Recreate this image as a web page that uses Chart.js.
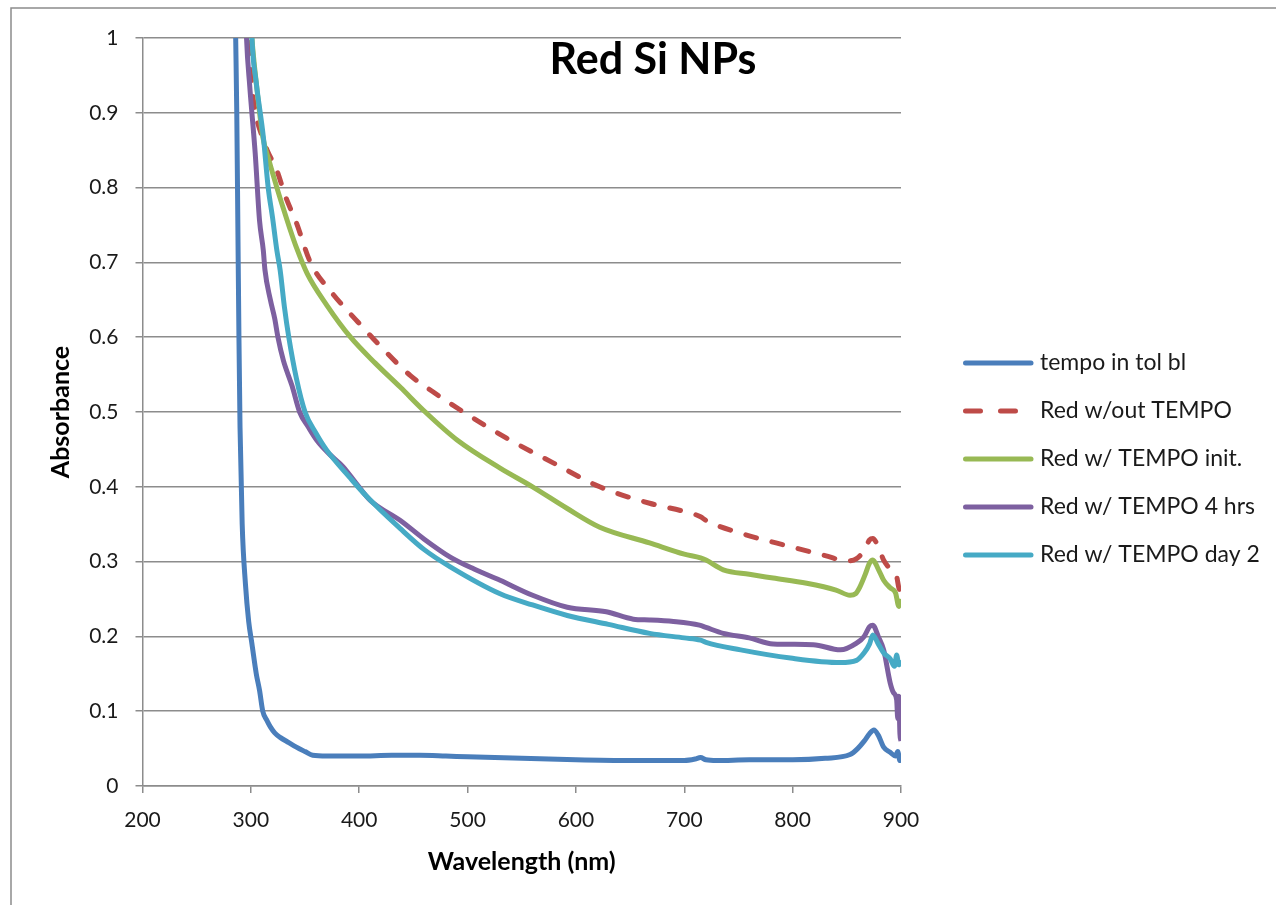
<!DOCTYPE html>
<html>
<head>
<meta charset="utf-8">
<title>Red Si NPs</title>
<script src="https://cdn.jsdelivr.net/npm/chart.js@4.4.1/dist/chart.umd.min.js"></script>
<style>
  html, body { margin: 0; padding: 0; background: #ffffff; }
  canvas { display: block; }
</style>
</head>
<body>
<canvas id="absChart" width="1276" height="905"></canvas>
<script>
// Values (wavelength in nm, absorbance)
const tempoWl  = [284, 286, 287, 288, 289, 290, 292, 295, 298, 301, 305, 308, 311, 315, 318, 322, 327, 335, 342, 350, 357, 370, 400, 430, 456, 480, 500, 550, 600, 650, 700, 710, 715, 720, 730, 760, 800, 830, 853, 860, 866, 871, 875, 879, 884, 890, 895, 897, 899, 900];
const tempoAbs = [1.2, 1.0, 0.9, 0.75, 0.6, 0.48, 0.35, 0.27, 0.22, 0.19, 0.15, 0.128, 0.1, 0.087, 0.079, 0.071, 0.065, 0.058, 0.052, 0.046, 0.041, 0.04, 0.04, 0.041, 0.041, 0.04, 0.039, 0.037, 0.035, 0.034, 0.034, 0.036, 0.038, 0.035, 0.034, 0.035, 0.035, 0.037, 0.042, 0.05, 0.06, 0.07, 0.075, 0.068, 0.052, 0.045, 0.04, 0.046, 0.034, 0.042];

const noTempoWl  = [297, 301, 305, 310, 315, 324, 332, 342, 355, 375, 399, 413, 447, 468, 493, 536, 579, 622, 668, 700, 715, 720, 752, 798, 830, 850, 859, 866, 871, 874, 879, 884, 890, 896, 898, 900];
const noTempoAbs = [1.03, 0.935, 0.895, 0.87, 0.85, 0.823, 0.788, 0.753, 0.70, 0.659, 0.62, 0.598, 0.549, 0.527, 0.503, 0.465, 0.432, 0.40, 0.378, 0.367, 0.36, 0.355, 0.338, 0.32, 0.308, 0.301, 0.304, 0.315, 0.329, 0.331, 0.32, 0.302, 0.29, 0.28, 0.265, 0.26];

const initWl  = [299, 301, 305, 311, 317, 324, 330, 336, 342, 352, 370, 392, 415, 438, 461, 490, 530, 560, 592, 622, 668, 700, 715, 720, 736, 760, 782, 813, 840, 853, 858, 862, 867, 871, 874, 879, 884, 890, 895, 898, 900];
const initAbs = [1.05, 1.0, 0.94, 0.868, 0.835, 0.80, 0.772, 0.745, 0.72, 0.685, 0.643, 0.6, 0.565, 0.533, 0.5, 0.463, 0.425, 0.40, 0.371, 0.346, 0.325, 0.31, 0.305, 0.302, 0.289, 0.283, 0.278, 0.271, 0.262, 0.255, 0.257, 0.266, 0.283, 0.298, 0.302, 0.29, 0.275, 0.265, 0.258, 0.24, 0.25];

const fourHrWl  = [295, 296, 299, 304, 308, 311.5, 313, 318, 322, 325, 330, 338, 345, 353, 361, 373, 385, 397, 410, 438, 460, 484, 506, 530, 560, 592, 628, 653, 668, 690, 714, 720, 736, 760, 782, 819, 844, 859, 866, 871, 874, 879, 884, 890, 893, 896, 897, 898, 899, 900];
const fourHrAbs = [1.05, 1.0, 0.935, 0.846, 0.756, 0.716, 0.69, 0.65, 0.625, 0.6, 0.569, 0.535, 0.5, 0.48, 0.462, 0.443, 0.427, 0.405, 0.382, 0.355, 0.33, 0.306, 0.29, 0.275, 0.255, 0.239, 0.233, 0.223, 0.222, 0.22, 0.215, 0.212, 0.204, 0.198, 0.19, 0.189, 0.182, 0.191, 0.2, 0.213, 0.215, 0.2, 0.182, 0.138, 0.125, 0.115, 0.09, 0.12, 0.07, 0.06];

const day2Wl  = [300, 301, 305, 311.5, 316, 320, 324, 327, 331, 335, 342, 350, 360, 370, 391, 407, 438, 460, 484, 530, 560, 592, 630, 668, 700, 715, 720, 752, 798, 844, 859, 866, 871, 874, 879, 884, 890, 894, 896, 898, 900];
const day2Abs = [1.05, 1.0, 0.94, 0.868, 0.80, 0.76, 0.716, 0.69, 0.64, 0.60, 0.545, 0.50, 0.472, 0.449, 0.413, 0.387, 0.344, 0.316, 0.293, 0.257, 0.242, 0.228, 0.216, 0.204, 0.198, 0.195, 0.192, 0.182, 0.171, 0.165, 0.168, 0.178, 0.19, 0.202, 0.19, 0.178, 0.17, 0.16, 0.175, 0.162, 0.168];

const seriesLabels = ['tempo in tol bl', 'Red w/out TEMPO', 'Red w/ TEMPO init.', 'Red w/ TEMPO 4 hrs', 'Red w/ TEMPO day 2'];
const seriesColors = ['#4a7ebb', '#be4b48', '#98b954', '#7d60a0', '#46aac5'];

const chartTitle = 'Red Si NPs';
const xTitle = 'Wavelength (nm)';
const yTitle = 'Absorbance';

const GRID = '#8c8c8c';
const FONT = 'Lato, "Open Sans", sans-serif';

function toPoints(xs, ys) {
    return xs.map((x, i) => ({ x: x, y: ys[i] }));
}

// Frame lines + title inside the plot + legend on the right
const decorPlugin = {
    id: 'decor',
    beforeDraw(chart) {
        const ctx = chart.ctx;
        ctx.save();
        ctx.fillStyle = '#ffffff';
        ctx.fillRect(0, 0, chart.width, chart.height);
        ctx.strokeStyle = GRID;
        ctx.lineWidth = 1.5;
        ctx.beginPath();
        ctx.moveTo(11, chart.height);
        ctx.lineTo(11, 8);
        ctx.lineTo(chart.width, 8);
        ctx.stroke();
        ctx.restore();
    },
    afterDraw(chart) {
        const ctx = chart.ctx;
        ctx.save();
        ctx.fillStyle = '#000000';
        ctx.font = 'bold 43px ' + FONT;
        ctx.textAlign = 'center';
        ctx.textBaseline = 'alphabetic';
        ctx.fillText(chartTitle, 653, 74);

        chart.data.datasets.forEach((ds, i) => {
            const y = 363 + i * 48;
            ctx.beginPath();
            ctx.strokeStyle = ds.borderColor;
            ctx.lineWidth = 5;
            ctx.lineCap = 'round';
            ctx.setLineDash(ds.borderDash ? [15, 20] : []);
            ctx.moveTo(965.5, y);
            ctx.lineTo(1031, y);
            ctx.stroke();
            ctx.setLineDash([]);
            ctx.fillStyle = '#1a1a1a';
            ctx.font = '23px ' + FONT;
            ctx.textAlign = 'left';
            ctx.textBaseline = 'middle';
            ctx.fillText(ds.label, 1040, y);
        });
        ctx.restore();
    }
};

const rawSeries = [
    [tempoWl, tempoAbs],
    [noTempoWl, noTempoAbs],
    [initWl, initAbs],
    [fourHrWl, fourHrAbs],
    [day2Wl, day2Abs]
];

const datasets = rawSeries.map((s, i) => ({
    label: seriesLabels[i],
    data: toPoints(s[0], s[1]),
    borderColor: seriesColors[i],
    backgroundColor: seriesColors[i],
    borderWidth: 5,
    borderDash: i === 1 ? [11, 16] : undefined,
    borderCapStyle: i === 1 ? 'round' : 'butt',
    borderJoinStyle: 'round',
    pointRadius: 0,
    cubicInterpolationMode: 'monotone',
    clip: 0,
    order: rawSeries.length - i
}));

new Chart(document.getElementById('absChart').getContext('2d'), {
    type: 'line',
    data: { datasets: datasets },
    plugins: [decorPlugin],
    options: {
        responsive: false,
        animation: false,
        devicePixelRatio: 1,
        layout: { padding: { top: 38, right: 375, bottom: 0, left: 0 } },
        plugins: {
            legend: { display: false },
            tooltip: { enabled: false }
        },
        scales: {
            x: {
                type: 'linear',
                min: 200,
                max: 900,
                afterFit: function (scale) { scale.height = 119; },
                border: { color: GRID, width: 1.5 },
                grid: {
                    drawOnChartArea: false,
                    drawTicks: true,
                    tickLength: 7,
                    color: GRID,
                    lineWidth: 1.5
                },
                ticks: {
                    stepSize: 100,
                    padding: 15,
                    color: '#1a1a1a',
                    font: { family: FONT, size: 21 },
                    maxRotation: 0
                },
                title: {
                    display: true,
                    text: xTitle,
                    color: '#000000',
                    font: { family: FONT, size: 25, weight: 'bold' },
                    padding: { top: 0, bottom: 28 }
                }
            },
            y: {
                min: 0,
                max: 1,
                afterFit: function (scale) { scale.width = 142.5; },
                border: { color: GRID, width: 1.5 },
                grid: {
                    drawTicks: true,
                    tickLength: 7,
                    color: GRID,
                    lineWidth: 1.5
                },
                ticks: {
                    stepSize: 0.1,
                    padding: 17,
                    color: '#1a1a1a',
                    font: { family: FONT, size: 21 },
                    callback: function (v) { return String(+v.toFixed(1)); }
                },
                title: {
                    display: true,
                    text: yTitle,
                    color: '#000000',
                    font: { family: FONT, size: 25, weight: 'bold' },
                    padding: { top: 46, bottom: 0 }
                }
            }
        }
    }
});
</script>
</body>
</html>
